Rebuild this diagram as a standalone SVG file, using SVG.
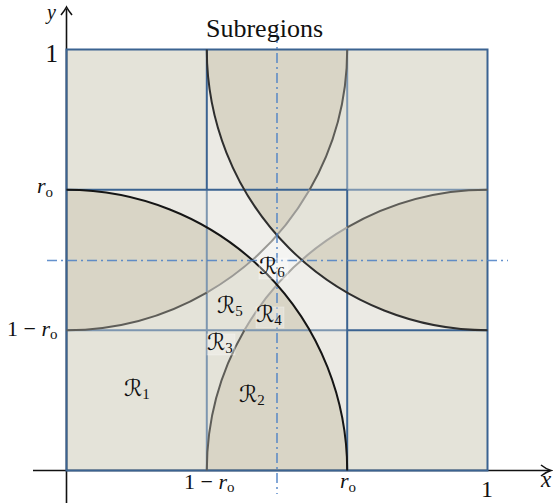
<svg xmlns="http://www.w3.org/2000/svg" width="553" height="503" viewBox="0 0 553 503">
<style>
.t{font-family:'Liberation Serif','Times New Roman',serif;fill:#111}
.i{font-style:italic}
.cal{font-family:'DejaVu Sans',sans-serif;font-size:23px;fill:#111}
.sub{font-family:'Liberation Serif','Times New Roman',serif;font-size:15px;font-style:normal}
.lens{fill:#d9d5c6}
.one{fill:#e4e3d9}
.gd{stroke:#3b6391;stroke-width:2;fill:none}
.gl{stroke:#7d96b0;stroke-width:2;fill:none}
.dd{stroke:#4a7fc4;stroke-width:1.6;stroke-dasharray:10 4 2 4;fill:none;opacity:0.85}
.ax{stroke:#111;stroke-width:1.6;fill:none}
.lb{fill:#ffffff;fill-opacity:0.3;stroke:#ffffff;stroke-opacity:0.35;stroke-width:0.8}
</style>
<g id="regions">
<rect x="66.5" y="49.5" width="421" height="421" fill="#ebeae4"/>
<rect x="206.8" y="189.8" width="140.4" height="140.4" fill="#efeeea"/>
<path class="one" d="M66.5,470.5 L66.5,189.8 A280.67,280.67 0 0 1 347.2,470.5 Z"/>
<path class="one" d="M487.5,49.5 L206.8,49.5 A280.67,280.67 0 0 0 487.5,330.2 Z"/>
<path class="lens" d="M66.5,189.8 A280.67,280.67 0 0 1 252.1,260 A280.67,280.67 0 0 1 66.5,330.2 Z"/>
<path class="lens" d="M206.8,49.5 A280.67,280.67 0 0 0 277,235.1 A280.67,280.67 0 0 0 347.2,49.5 Z"/>
<path class="lens" d="M487.5,189.8 A280.67,280.67 0 0 0 301.9,260 A280.67,280.67 0 0 0 487.5,330.2 Z"/>
<path class="lens" d="M206.8,470.5 A280.67,280.67 0 0 1 277,284.9 A280.67,280.67 0 0 1 347.2,470.5 Z"/>
<rect class="one" x="66.5" y="49.5" width="140.3" height="140.3"/>
<rect class="one" x="347.2" y="330.2" width="140.3" height="140.3"/>
<path fill="#f4f4f2" d="M252.1,260 A280.67,280.67 0 0 0 277,235.1 A280.67,280.67 0 0 0 301.9,260 A280.67,280.67 0 0 0 277,284.9 A280.67,280.67 0 0 0 252.1,260 Z"/>
</g>
<g id="axes">
<path class="ax" d="M33,470.5 H549"/>
<path class="ax" d="M541,465 Q546,469 551,470.5 Q546,472 541,476"/>
<path class="ax" d="M66.5,503 V9"/>
<path class="ax" d="M61,15 Q65,10 66.5,7 Q68,10 72,15"/>
</g>
<g id="grid">
<path class="gl" d="M206.8,189.8 V470.5 M66.5,330.2 H347.2 M347.2,49.5 V189.8 M347.2,189.8 H487.5"/>
<path class="gd" d="M206.8,49.5 V189.8 M66.5,189.8 H347.2 M347.2,189.8 V470.5 M347.2,330.2 H487.5"/>
<rect class="gd" x="66.5" y="49.5" width="421" height="421"/>
</g>
<g id="arcs" fill="none" stroke-width="2">
<path stroke="#5e5d58" d="M66.5,330.2 A280.67,280.67 0 0 0 206.8,292.6 M309.6,189.8 A280.67,280.67 0 0 0 347.2,49.5"/>
<path stroke="#9a9995" d="M206.8,292.6 A280.67,280.67 0 0 0 309.6,189.8"/>
<path stroke="#5e5d58" d="M206.8,470.5 A280.67,280.67 0 0 1 244.4,330.2 M347.2,227.4 A280.67,280.67 0 0 1 487.5,189.8"/>
<path stroke="#a8a7a3" d="M244.4,330.2 A280.67,280.67 0 0 1 347.2,227.4"/>
<path stroke="#2e2e2e" d="M206.8,49.5 A280.67,280.67 0 0 0 487.5,330.2"/>
<path stroke="#151515" d="M66.5,189.8 A280.67,280.67 0 0 1 347.2,470.5"/>
</g>
<g id="symmetry">
<path class="dd" d="M277,33 V494"/>
<path class="dd" d="M47,260.5 H508"/>
</g>
<g id="labels">
<text class="t" x="206" y="37" font-size="26">Subregions</text>
<text class="t i" x="47" y="19" font-size="20">y</text>
<text class="t i" x="541" y="487" font-size="23">x</text>
<text class="t" x="58" y="62" font-size="25" text-anchor="end">1</text>
<text class="t" x="487" y="497" font-size="24" text-anchor="middle">1</text>
<text class="t i" x="37" y="193" font-size="22">r<tspan class="sub" dy="4">o</tspan></text>
<text class="t" x="7" y="336" font-size="22">1 − <tspan class="i">r</tspan><tspan class="sub" dy="3">o</tspan></text>
<text class="t" x="184" y="489" font-size="22">1 − <tspan class="i">r</tspan><tspan class="sub" dy="3">o</tspan></text>
<text class="t i" x="340" y="488" font-size="22">r<tspan class="sub" dy="4">o</tspan></text>
</g>
<g id="R1"><text class="cal" x="124" y="396">ℛ<tspan class="sub" dy="3">1</tspan></text></g>
<g id="R2"><text class="cal" x="239" y="402">ℛ<tspan class="sub" dy="3">2</tspan></text></g>
<g id="R3"><rect class="lb" x="207" y="334" width="28" height="21"/><text class="cal" x="207" y="350">ℛ<tspan class="sub" dy="3">3</tspan></text></g>
<g id="R4"><rect class="lb" x="256" y="307" width="28" height="21"/><text class="cal" x="256" y="322">ℛ<tspan class="sub" dy="3">4</tspan></text></g>
<g id="R5"><text class="cal" x="217" y="313">ℛ<tspan class="sub" dy="3">5</tspan></text></g>
<g id="R6"><rect class="lb" x="259" y="258" width="29" height="21"/><text class="cal" x="259" y="274">ℛ<tspan class="sub" dy="3">6</tspan></text></g>
</svg>
